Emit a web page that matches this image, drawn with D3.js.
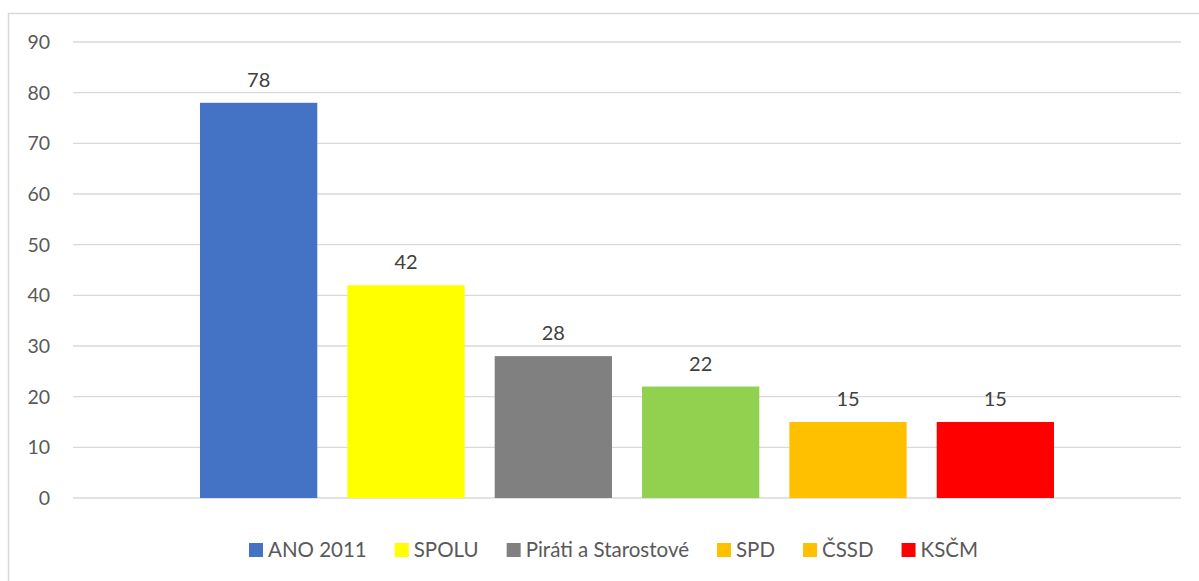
<!DOCTYPE html>
<html lang="cs">
<head>
    <meta charset="UTF-8">
    <title>Mandáty</title>
    <style>
        body,html{
            margin:0;
            padding:0;
            border:0;
            background:#fff;
            font-family:Lato, "Open Sans", sans-serif;
        }
    </style>
</head>
<body>
    <svg id="svg" width="1199" height="581"></svg>
    <script type="text/javascript" src="https://cdnjs.cloudflare.com/ajax/libs/d3/7.8.5/d3.min.js"></script>
    <script type="text/javascript">
        var parties = ["ANO 2011", "SPOLU", "Piráti a Starostové", "SPD", "ČSSD", "KSČM"];
        var seats = [78, 42, 28, 22, 15, 15];
        var barColors = ["#4472C4", "#FFFF00", "#808080", "#92D050", "#FFC000", "#FF0000"];
        // the legend in the source shows SPD in orange, not green
        var legendColors = ["#4472C4", "#FFFF00", "#808080", "#FFC000", "#FFC000", "#FF0000"];
        var yTicks = [0, 10, 20, 30, 40, 50, 60, 70, 80, 90];

        var svg = d3.select("#svg");
        var plotLeft = 73, plotRight = 1181, plotTop = 42, plotBottom = 498;

        //chart frame (right and bottom edges fall outside the picture)
        svg.append("path")
            .attr("d", "M8.5,581 V13.5 H1199")
            .attr("fill", "none")
            .attr("stroke", "#d9d9d9")
            .attr("stroke-width", 1.5);

        var y = d3.scaleLinear().domain([0, 90]).range([plotBottom, plotTop]);
        var x = d3.scaleBand().domain(parties).range([plotLeft, plotRight])
            .paddingInner(0.204).paddingOuter(0.862);

        //gridlines
        svg.append("g").selectAll("line").data(yTicks).enter().append("line")
            .attr("x1", plotLeft).attr("x2", plotRight)
            .attr("y1", function(d){return y(d);})
            .attr("y2", function(d){return y(d);})
            .attr("stroke", "#d9d9d9")
            .attr("stroke-width", 1.3);

        //tick labels
        svg.append("g").selectAll("text").data(yTicks).enter().append("text")
            .attr("x", 50)
            .attr("y", function(d){return y(d);})
            .attr("dy", "0.36em")
            .attr("text-anchor", "end")
            .attr("font-size", 19.5)
            .attr("fill", "#595959")
            .text(function(d){return d;});

        //bars
        svg.append("g").selectAll("rect").data(parties).enter().append("rect")
            .attr("x", function(d){return x(d);})
            .attr("width", x.bandwidth())
            .attr("y", function(d, i){return y(seats[i]);})
            .attr("height", function(d, i){return y(0) - y(seats[i]);})
            .attr("fill", function(d, i){return barColors[i];});

        //value labels
        svg.append("g").selectAll("text").data(parties).enter().append("text")
            .attr("x", function(d){return x(d) + x.bandwidth() / 2;})
            .attr("y", function(d, i){return y(seats[i]) - 16;})
            .attr("text-anchor", "middle")
            .attr("font-size", 20)
            .attr("fill", "#404040")
            .text(function(d, i){return seats[i];});

        //legend, laid out from measured text widths
        var legend = svg.append("g");
        var lx = 249;
        parties.forEach(function(p, i){
            legend.append("rect")
                .attr("x", lx).attr("y", 543)
                .attr("width", 14).attr("height", 14)
                .attr("fill", legendColors[i]);
            var t = legend.append("text")
                .attr("x", lx + 19).attr("y", 557)
                .attr("font-size", 20.5)
                .attr("fill", "#595959")
                .text(p);
            lx += 19 + t.node().getComputedTextLength() + 28;
        });
    </script>
</body>
</html>
